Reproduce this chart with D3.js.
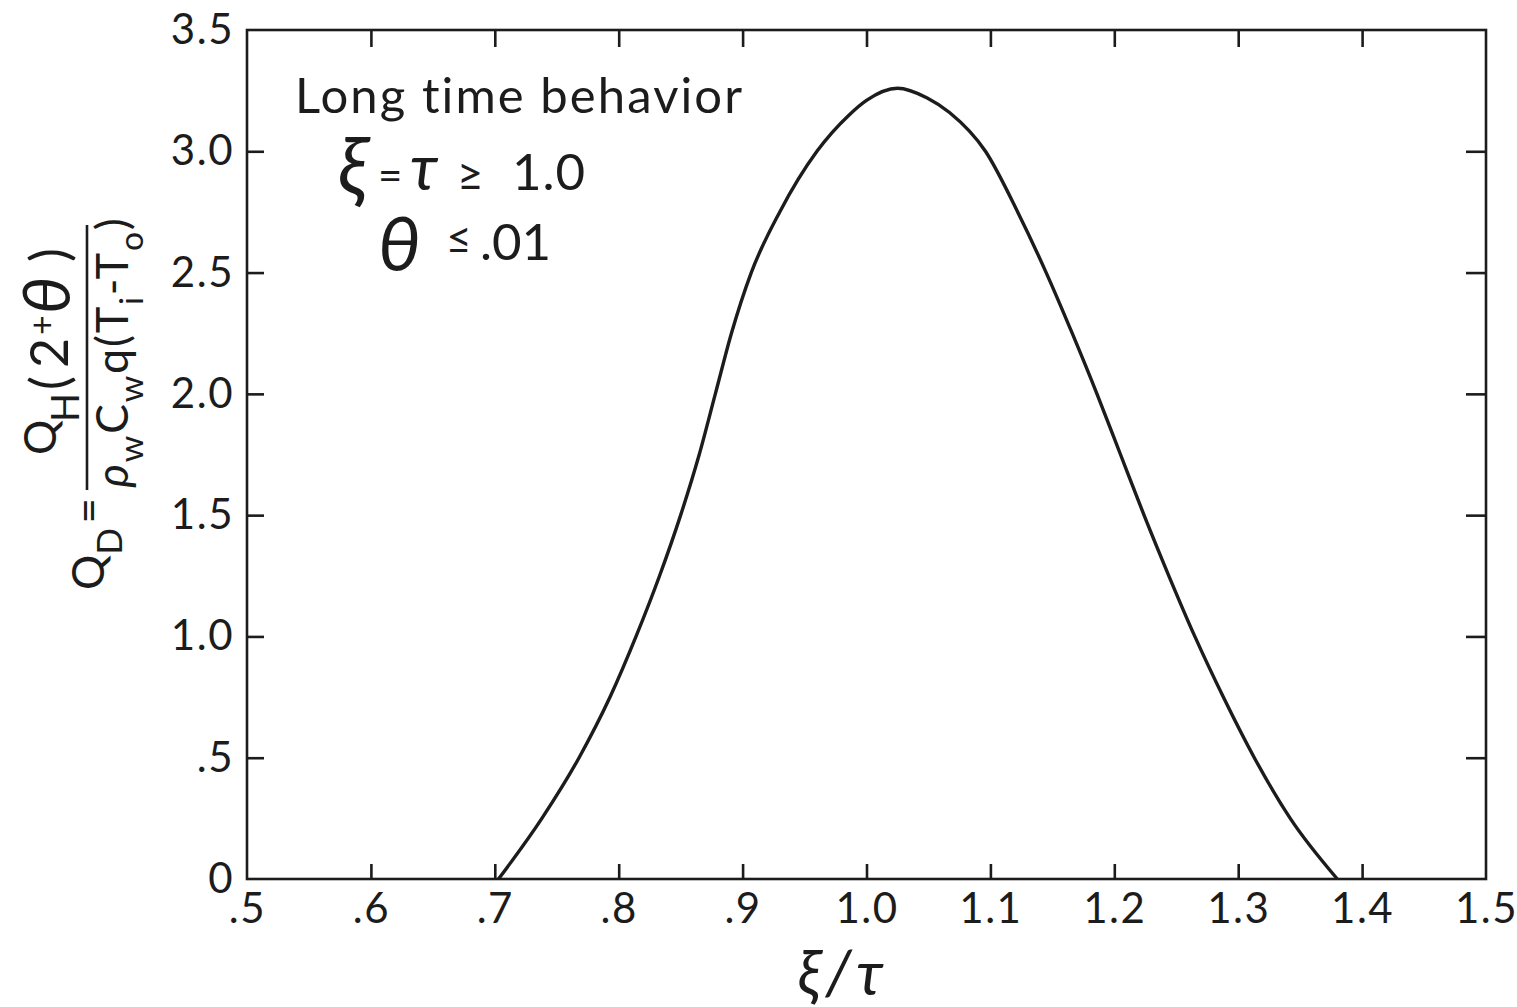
<!DOCTYPE html>
<html>
<head>
<meta charset="utf-8">
<script src="https://cdn.jsdelivr.net/npm/d3@7"></script>
<style>
  html, body { margin: 0; padding: 0; background: #fff; }
  svg { display: block; }
  text { font-family: Lato, "Open Sans", "DejaVu Sans", sans-serif; fill: #1c1c1c; }
</style>
</head>
<body>
<svg id="chart" width="1517" height="1007"></svg>
<script>
// Dimensionless heat delivered vs. position ratio xi/tau (long time behavior)
const xiRatio = [0.703, 0.738, 0.768, 0.793, 0.814, 0.833, 0.850, 0.865, 0.878, 0.891,
                 0.907, 0.930, 0.960, 0.986, 1.000, 1.025, 1.049, 1.067, 1.096, 1.122,
                 1.145, 1.166, 1.186, 1.205, 1.224, 1.244, 1.265, 1.288, 1.313, 1.342,
                 1.380];
const heatQD  = [0.00, 0.25, 0.50, 0.75, 1.00, 1.25, 1.50, 1.75, 2.00, 2.25,
                 2.50, 2.75, 3.00, 3.15, 3.21, 3.26, 3.22, 3.16, 3.00, 2.75,
                 2.50, 2.25, 2.00, 1.75, 1.50, 1.25, 1.00, 0.75, 0.50, 0.25,
                 0.00];

const xTickValues = [0.5, 0.6, 0.7, 0.8, 0.9, 1.0, 1.1, 1.2, 1.3, 1.4, 1.5];
const xTickLabels = [".5", ".6", ".7", ".8", ".9", "1.0", "1.1", "1.2", "1.3", "1.4", "1.5"];
const yTickValues = [0, 0.5, 1.0, 1.5, 2.0, 2.5, 3.0, 3.5];
const yTickLabels = ["0", ".5", "1.0", "1.5", "2.0", "2.5", "3.0", "3.5"];

const svg = d3.select("#chart");
const ink = "#1c1c1c";

const x = d3.scaleLinear().domain([0.5, 1.5]).range([247, 1486]);
const y = d3.scaleLinear().domain([0, 3.5]).range([879, 30]);

const innerX = xTickValues.slice(1, -1);
const innerY = yTickValues.slice(1, -1);

// bottom axis: labels at every value, inward ticks only inside the frame
const bottom = svg.append("g").attr("transform", `translate(0,${y(0)})`)
  .call(d3.axisBottom(x).tickValues(xTickValues)
        .tickFormat((d, i) => xTickLabels[i]).tickSize(-15).tickSizeOuter(0).tickPadding(14));
bottom.selectAll(".tick line").filter(d => !innerX.includes(d)).remove();

const left = svg.append("g").attr("transform", `translate(${x(0.5)},0)`)
  .call(d3.axisLeft(y).tickValues(yTickValues)
        .tickFormat((d, i) => yTickLabels[i]).tickSize(-17).tickSizeOuter(0).tickPadding(13));
left.selectAll(".tick line").filter(d => !innerY.includes(d)).remove();

svg.append("g").attr("transform", `translate(0,${y(3.5)})`)
  .call(d3.axisTop(x).tickValues(innerX).tickFormat("").tickSize(-17).tickSizeOuter(0));
svg.append("g").attr("transform", `translate(${x(1.5)},0)`)
  .call(d3.axisRight(y).tickValues(innerY).tickFormat("").tickSize(-20).tickSizeOuter(0));

svg.selectAll(".domain").remove();
svg.selectAll(".tick line").attr("stroke", ink).attr("stroke-width", 2.6);
svg.selectAll(".tick text").attr("font-size", 42).attr("fill", ink)
   .attr("letter-spacing", 1.5)
   .style("font-family", "Lato, 'Open Sans', sans-serif");

// frame
svg.append("rect")
  .attr("x", x(0.5)).attr("y", y(3.5))
  .attr("width", x(1.5) - x(0.5)).attr("height", y(0) - y(3.5))
  .attr("fill", "none").attr("stroke", ink).attr("stroke-width", 2.6);

// curve
const line = d3.line()
  .x((d, i) => x(xiRatio[i]))
  .y(d => y(d))
  .curve(d3.curveMonotoneX);
svg.append("path")
  .attr("d", line(heatQD))
  .attr("fill", "none").attr("stroke", ink).attr("stroke-width", 3.4)
  .attr("stroke-linejoin", "round");

// widen a text's letter spacing so its advance equals a given width
function spread(sel, width) {
  const n = sel.node();
  const chars = n.getNumberOfChars();
  const len = n.getComputedTextLength();
  sel.attr("letter-spacing", Math.max(0, (width - len) / chars));
  return sel;
}

function glyph(parent, tx, ty, size, str, italic) {
  return parent.append("text").attr("x", tx).attr("y", ty).attr("font-size", size)
    .attr("font-style", italic ? "italic" : null).text(str);
}

// annotations
spread(glyph(svg, 295, 113, 49, "Long time behavior", false), 450);

glyph(svg, 338, 194, 80, "ξ", true);
glyph(svg, 378, 190, 42, "=", false);
glyph(svg, 410, 190, 64, "τ", true);
glyph(svg, 457, 191, 46, "≥", false);
spread(glyph(svg, 512, 190, 51, "1.0", false), 74);

glyph(svg, 378, 271, 76, "θ", true);
glyph(svg, 446, 254, 44, "≤", false);
spread(glyph(svg, 480, 260, 51, ".01", false), 68);

// x axis title
svg.append("text").attr("x", 843).attr("y", 995).attr("font-size", 62)
  .attr("text-anchor", "middle").attr("font-style", "italic")
  .attr("letter-spacing", 5).text("ξ/τ");

// y axis title (rotated): Q_D = Q_H(2+θ) / ρ_w C_w q(T_i − T_o)
// inside the group, x = -(page y) and y = page x
const yt = svg.append("g").attr("transform", "rotate(-90)");

const qd = yt.append("text").attr("x", -544).attr("y", 104).attr("font-size", 44)
  .attr("text-anchor", "middle");
qd.append("tspan").text("Q");
qd.append("tspan").attr("font-size", "0.8em").attr("dy", "0.5em").text("D");
qd.append("tspan").attr("dy", "-0.4em").attr("dx", "0.1em").text("=");
spread(qd, 84);

// numerator, glyph by glyph
glyph(yt, -455, 56, 44, "Q", false);
glyph(yt, -422, 79, 38, "H", false);
glyph(yt, -390, 68, 52, "(", false);
glyph(yt, -368, 68, 52, "2", false);
glyph(yt, -335, 54, 34, "+", false);
glyph(yt, -314, 70, 66, "θ", true);
glyph(yt, -262, 68, 52, ")", false);

const den = yt.append("text").attr("x", -352).attr("y", 128).attr("font-size", 45)
  .attr("text-anchor", "middle");
den.append("tspan").attr("font-style", "italic").text("ρ");
den.append("tspan").attr("font-size", "0.75em").attr("dy", "0.45em").text("w");
den.append("tspan").attr("dy", "-0.34em").text("C");
den.append("tspan").attr("font-size", "0.75em").attr("dy", "0.45em").text("w");
den.append("tspan").attr("dy", "-0.34em").text("q(T");
den.append("tspan").attr("font-size", "0.75em").attr("dy", "0.45em").text("i");
den.append("tspan").attr("dy", "-0.34em").text("-T");
den.append("tspan").attr("font-size", "0.75em").attr("dy", "0.45em").text("o");
den.append("tspan").attr("dy", "-0.34em").text(")");
spread(den, 271);

// fraction bar
yt.append("line").attr("x1", -225).attr("x2", -490).attr("y1", 87).attr("y2", 87)
  .attr("stroke", ink).attr("stroke-width", 2.6);
</script>
</body>
</html>
